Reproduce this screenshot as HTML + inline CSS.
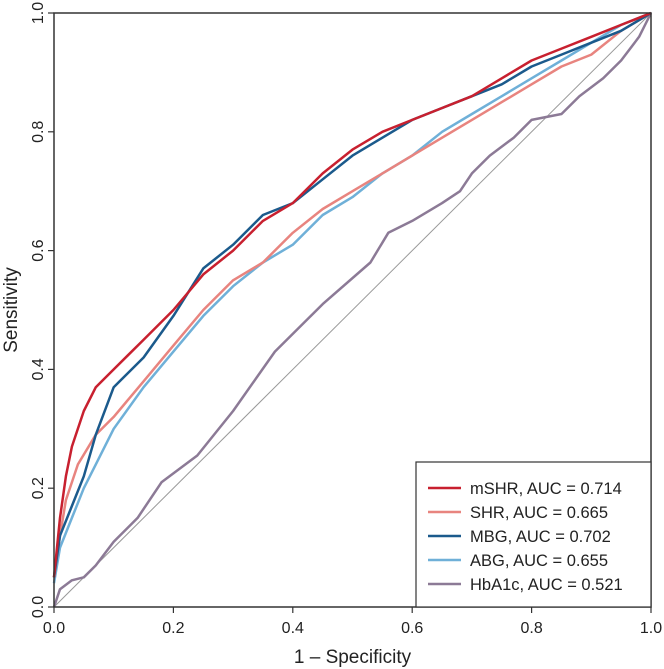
<!DOCTYPE html>
<html><head><meta charset="utf-8"><style>
body{margin:0;background:#fff;}
svg{display:block;font-family:"Liberation Sans",Arial,sans-serif;}
</style></head><body>
<svg id="chart" width="664" height="669" viewBox="0 0 664 669"></svg>
<script>
const ticks=[0,0.2,0.4,0.6,0.8,1.0];
const tickLabels=["0.0","0.2","0.4","0.6","0.8","1.0"];
const seriesNames=["mSHR, AUC = 0.714","SHR, AUC = 0.665","MBG, AUC = 0.702","ABG, AUC = 0.655","HbA1c, AUC = 0.521"];
const seriesKeys=["mshr","shr","mbg","abg","hba1c"];
const seriesColors=["#c8202f","#e8847f","#1b5a8c","#6fb0d8","#8c7a96"];
const mshrX=[0,0.005,0.01,0.02,0.03,0.05,0.07,0.1,0.15,0.2,0.25,0.3,0.35,0.4,0.45,0.5,0.55,0.6,0.65,0.7,0.75,0.8,0.85,0.9,0.95,1];
const mshrY=[0.05,0.1,0.15,0.22,0.27,0.33,0.37,0.4,0.45,0.5,0.56,0.6,0.65,0.68,0.73,0.77,0.8,0.82,0.84,0.86,0.89,0.92,0.94,0.96,0.98,1];
const mbgX=[0,0.01,0.03,0.05,0.07,0.1,0.15,0.2,0.25,0.3,0.35,0.4,0.45,0.5,0.55,0.6,0.65,0.7,0.75,0.8,0.85,0.9,0.95,1];
const mbgY=[0.05,0.12,0.17,0.22,0.29,0.37,0.42,0.49,0.57,0.61,0.66,0.68,0.72,0.76,0.79,0.82,0.84,0.86,0.88,0.91,0.93,0.95,0.97,1];
const shrX=[0,0.01,0.02,0.04,0.07,0.1,0.15,0.2,0.25,0.3,0.35,0.4,0.45,0.5,0.55,0.6,0.65,0.7,0.75,0.8,0.85,0.9,0.95,1];
const shrY=[0.05,0.12,0.18,0.24,0.29,0.32,0.38,0.44,0.5,0.55,0.58,0.63,0.67,0.7,0.73,0.76,0.79,0.82,0.85,0.88,0.91,0.93,0.97,1];
const abgX=[0,0.01,0.03,0.05,0.07,0.1,0.15,0.2,0.25,0.3,0.35,0.4,0.45,0.5,0.55,0.6,0.65,0.7,0.75,0.8,0.85,0.9,0.95,1];
const abgY=[0.04,0.1,0.15,0.2,0.24,0.3,0.37,0.43,0.49,0.54,0.58,0.61,0.66,0.69,0.73,0.76,0.8,0.83,0.86,0.89,0.92,0.95,0.98,1];
const hbX=[0,0.01,0.03,0.05,0.07,0.1,0.14,0.18,0.24,0.3,0.37,0.45,0.53,0.56,0.6,0.65,0.68,0.7,0.73,0.77,0.8,0.85,0.88,0.92,0.95,0.98,1];
const hbY=[0,0.03,0.045,0.05,0.07,0.11,0.15,0.21,0.255,0.33,0.43,0.51,0.58,0.63,0.65,0.68,0.7,0.73,0.76,0.79,0.82,0.83,0.86,0.89,0.92,0.96,1];
const seriesX=[mshrX,shrX,mbgX,abgX,hbX];
const seriesY=[mshrY,shrY,mbgY,abgY,hbY];
const drawOrder=[4,3,1,2,0];

const L=54,R=651,T=13,B=607;
const sx=v=>L+(R-L)*v, sy=v=>B-(B-T)*v;
const NS="http://www.w3.org/2000/svg";
const svg=document.getElementById('chart');
function mk(tag,attrs,parent){const e=document.createElementNS(NS,tag);for(const k in attrs)e.setAttribute(k,attrs[k]);(parent||svg).appendChild(e);return e;}

const diag=mk('line',{x1:sx(0),y1:sy(0),x2:sx(1),y2:sy(1),stroke:'#999','stroke-width':1});



drawOrder.forEach(i=>{
  const d=seriesX[i].map((x,j)=>(j?'L':'M')+sx(x).toFixed(1)+','+sy(seriesY[i][j]).toFixed(1)).join(' ');
  const p=mk('path',{d:d,fill:'none',stroke:seriesColors[i],'stroke-width':2.5,'stroke-linejoin':'round'});
  
  
});

const frame=mk('rect',{x:L,y:T,width:R-L,height:B-T,fill:'none',stroke:'#333','stroke-width':1.5});



ticks.forEach((t,i)=>{
  mk('line',{x1:sx(t),y1:B,x2:sx(t),y2:B+6,stroke:'#333','stroke-width':1.2});
  const xl=mk('text',{x:sx(t),y:B+26,'text-anchor':'middle','font-size':16,fill:'#222'});
  xl.textContent=tickLabels[i];
  
  
  mk('line',{x1:L-6,y1:sy(t),x2:L,y2:sy(t),stroke:'#333','stroke-width':1.2});
  const yl=mk('text',{x:0,y:0,'text-anchor':'middle','font-size':16,fill:'#222',transform:`translate(${L-11},${sy(t)}) rotate(-90)`});
  yl.textContent=tickLabels[i];
  
  
});

const xt=mk('text',{x:(L+R)/2,y:663,'text-anchor':'middle','font-size':19,fill:'#222'});
xt.textContent='1 \u2013 Specificity';


const yt=mk('text',{x:0,y:0,'text-anchor':'middle','font-size':19,fill:'#222',transform:`translate(17,${(T+B)/2}) rotate(-90)`});
yt.textContent='Sensitivity';



const lg=mk('g',{});


mk('rect',{x:416,y:462,width:R-416,height:B-462,fill:'#fff',stroke:'#333','stroke-width':1.2},lg);
seriesNames.forEach((n,i)=>{
  const y=488+i*24;
  const g=mk('g',{},lg);
  
  
  mk('line',{x1:428,y1:y,x2:461,y2:y,stroke:seriesColors[i],'stroke-width':2.5},g);
  const t=mk('text',{x:470,y:y+6,'font-size':16.5,fill:'#222'},g);
  t.textContent=n;
});
</script>
</body></html>
